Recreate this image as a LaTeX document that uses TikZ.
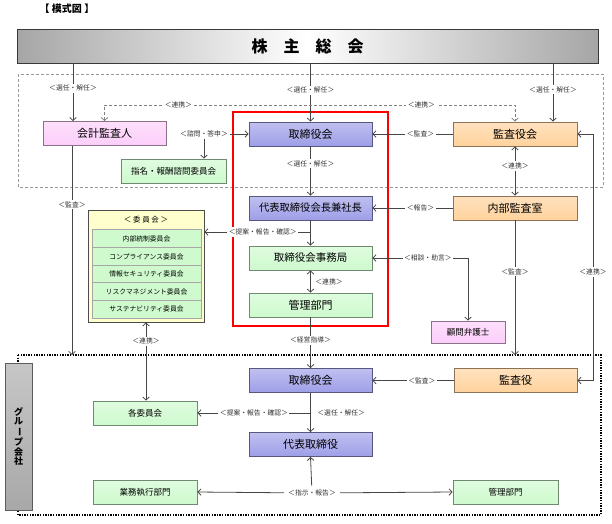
\documentclass[tikz,border=0pt]{standalone}
\usepackage{fontspec}
\setmainfont{Noto Sans CJK JP}
\usepackage{tikz}
\usetikzlibrary{arrows.meta,calc,positioning,shadows}
\definecolor{BoxPurple}{RGB}{158,158,232}
\definecolor{BoxOrange}{RGB}{255,210,156}
\definecolor{BoxGreen}{RGB}{206,250,206}
\definecolor{BoxPink}{RGB}{252,206,250}
\definecolor{PanelYellow}{RGB}{255,255,206}
\definecolor{BarGray}{RGB}{168,168,168}
\definecolor{LineGray}{RGB}{70,70,70}
\tikzset{
  box/.style={draw=#1!55!black, line width=0.9pt, top color=#1!65!white, bottom color=#1, inner sep=1pt,
    drop shadow={shadow xshift=0.9pt, shadow yshift=-0.9pt, fill=black!40, opacity=1}},
  bigbox/.style={minimum width=123pt, minimum height=24pt, font=\fontsize{11}{12}\selectfont},
  smallbox/.style={minimum width=105pt, minimum height=24pt, font=\fontsize{8.5}{10}\selectfont},
  rowbox/.style={draw=gray!70, line width=0.6pt, fill=BoxGreen, minimum width=109pt, minimum height=17.8pt, inner sep=0pt, font=\fontsize{6.8}{8}\selectfont},
  lbl/.style={fill=white, inner sep=1.5pt, text=black!80, font=\fontsize{6.8}{8}\selectfont},
  arr/.style={draw=LineGray, line width=0.8pt, -{Straight Barb[length=3pt,width=6.5pt]}},
  arrs/.style={draw=LineGray, line width=0.8pt, {Straight Barb[length=3pt,width=6.5pt]}-{Straight Barb[length=3pt,width=6.5pt]}}
}
\begin{document}
\begin{tikzpicture}[x=1pt,y=-1pt]
\useasboundingbox (0,0) rectangle (612,523);
% title, banner and frames
\node[font=\bfseries\fontsize{10}{11}\selectfont] (title) at (67,9) {【 模式図 】};
\node[draw=gray!45!black, line width=0.9pt, left color=gray!70, right color=gray!70, middle color=white,
  drop shadow={shadow xshift=1pt, shadow yshift=-1pt, fill=black!45, opacity=1},
  minimum width=581pt, minimum height=34pt, font=\bfseries\fontsize{16}{18}\selectfont] (soukai) at (307.5,46) {株\quad 主\quad 総\quad 会};
\draw[gray!80, line width=0.7pt, dash pattern=on 3pt off 2pt] (18,74) rectangle (603,187);
\draw[black, line width=1.6pt, dash pattern=on 1.4pt off 1.2pt] (18,355) rectangle (601,515);
\draw[red, line width=1.2pt] (233,112) rectangle (388,326);
\coordinate (grptop) at (0,355);
\coordinate (rline) at (593,0);
% upper boxes
\node[box=BoxPink, bigbox] (kaikei) at (104.5,133.5) {会計監査人};
\node[box=BoxPurple, bigbox] (torikai) at (310.5,134) {取締役会};
\node[box=BoxOrange, bigbox, minimum width=124pt] (kansakai) at (515,134) {監査役会};
\node[box=BoxGreen, smallbox] (shimei) at (173.5,171) {指名・報酬諮問委員会};
\node[box=BoxPurple, bigbox, font=\fontsize{10.3}{12}\selectfont] (daihyo) at (310.5,208) {代表取締役会長兼社長};
\node[box=BoxOrange, bigbox, minimum width=124pt] (naibu) at (515,208) {内部監査室};
\node[box=BoxGreen, bigbox, font=\fontsize{10.5}{12}\selectfont] (jimu) at (310.5,258) {取締役会事務局};
\node[box=BoxGreen, bigbox] (kanri) at (310.5,305) {管理部門};
\node[box=BoxPink, smallbox, minimum width=74pt, minimum height=22pt] (komon) at (468,332) {顧問弁護士};
% committee panel
\node[draw=gray!60!black, line width=0.9pt, fill=PanelYellow, minimum width=116pt, minimum height=112pt] (iinkai) at (146,266) {};
\node[font=\fontsize{7.5}{8}\selectfont] (iinkaihead) at (146,220) {＜ 委 員 会 ＞};
\node[rowbox] (row1) at (146.5,238.5) {内部統制委員会};
\node[rowbox] (row2) at (146.5,256.5) {コンプライアンス委員会};
\node[rowbox] (row3) at (146.5,274) {情報セキュリティ委員会};
\node[rowbox] (row4) at (146.5,291.5) {リスクマネジメント委員会};
\node[rowbox] (row5) at (146.5,309) {サステナビリティ委員会};
% group companies
\node[box=BarGray, minimum width=27pt, minimum height=147pt, align=center, font=\bfseries\fontsize{9}{9.6}\selectfont]
  (group) at (18.5,436.5) {グ\\ル\\\rotatebox[origin=c]{-90}{ー}\\プ\\会\\社};
\node[box=BoxPurple, bigbox] (g-torikai) at (310.5,380.5) {取締役会};
\node[box=BoxOrange, bigbox] (g-kansa) at (515.5,380.5) {監査役};
\node[box=BoxGreen, smallbox, minimum width=104pt] (g-iinkai) at (145,413) {各委員会};
\node[box=BoxPurple, bigbox] (g-daihyo) at (310.5,444.5) {代表取締役};
\node[box=BoxGreen, smallbox, minimum width=104pt] (g-gyomu) at (145,492) {業務執行部門};
\node[box=BoxGreen, smallbox] (g-kanri) at (505.5,492) {管理部門};
% upper connectors
\draw[arr] (soukai.south -| 73,0) -- node[lbl,pos=0.43]{＜選任・解任＞} (kaikei.north -| 73,0);
\draw[arr] (soukai.south -| torikai.north) -- node[lbl,pos=0.46]{＜選任・解任＞} (torikai.north);
\draw[arr] (soukai.south -| 553,0) -- node[lbl,pos=0.45]{＜選任・解任＞} (kansakai.north -| 553,0);
\draw[arrs, draw=gray, dash pattern=on 3pt off 2pt] (kaikei.north) |- node[lbl,pos=0.59]{＜連携＞} node[lbl,pos=0.886]{＜連携＞} (kansakai.north |- 0,105) -- (kansakai.north);
\node[lbl] (shimonlbl) at (204,134) {＜諮問・答申＞};
\draw[arr] (shimonlbl) -- (torikai.west);
\draw[arr] (shimonlbl.south) -- (shimei.north -| shimonlbl);
\draw[arr] (kansakai.west) -- node[lbl,pos=0.4]{＜監査＞} (torikai.east);
\draw[arrs] (kansakai.south) -- node[lbl,pos=0.4]{＜連携＞} (naibu.north);
\draw[arr] (torikai.south) -- node[lbl,pos=0.35]{＜選任・解任＞} (daihyo.north);
\draw[arr] (naibu.west) -- node[lbl,pos=0.4]{＜報告＞} (daihyo.east);
\draw[arr] (daihyo.south) -- (jimu.north);
\draw[arr] (daihyo.south |- 0,232) -- node[lbl,pos=0.45]{＜提案・報告・確認＞} (iinkai.east |- 0,232);
\draw[arrs] (jimu.south) -- node[lbl,right=3pt]{＜連携＞} (kanri.north);
\draw[arrs] (komon.north) |- node[lbl,pos=0.71]{＜相談・助言＞} (jimu.east);
\draw[arr] (naibu.south) -- node[lbl,pos=0.38]{＜監査＞} (naibu.south |- grptop);
\draw[arrs] (g-kansa.east) -- (g-kansa.east -| rline) |- node[lbl,pos=0.22]{＜連携＞} (kansakai.east);
\draw[arr] (kaikei.south -| 72,0) -- node[lbl,pos=0.28]{＜監査＞} (grptop -| 72,0);
\draw[arrs] (iinkai.south) -- node[lbl,pos=0.24]{＜連携＞} (g-iinkai.north -| iinkai.south);
\draw[arr] (kanri.south) -- node[lbl,pos=0.45]{＜経営指導＞} (g-torikai.north);
% group connectors
\draw[arr] (g-kansa.west) -- node[lbl,pos=0.39]{＜監査＞} (g-torikai.east);
\draw[arr] (g-torikai.south) -- node[lbl,right=5pt]{＜選任・解任＞} (g-daihyo.north);
\draw[arr] (g-torikai.south |- g-iinkai.east) -- node[lbl,pos=0.5]{＜提案・報告・確認＞} (g-iinkai.east);
\node[lbl, inner sep=4pt] (shijilbl) at (312,493) {＜指示・報告＞};
\draw[arr] (shijilbl) -- (g-daihyo.south);
\draw[arr] (shijilbl) -- (g-gyomu.east);
\draw[arr] (shijilbl) -- (g-kanri.west);
\end{tikzpicture}
\end{document}
